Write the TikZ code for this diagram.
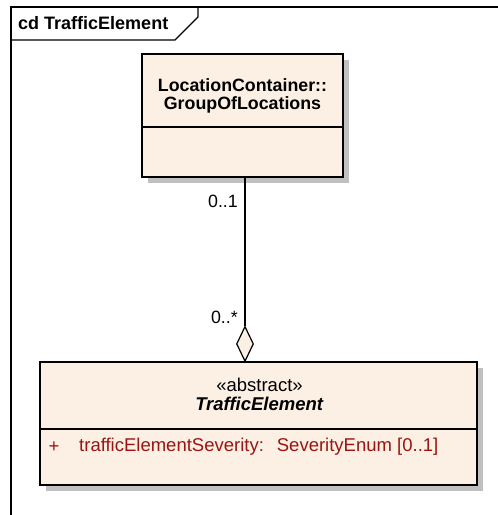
\documentclass[tikz,border=0pt]{standalone}
\usepackage{fontspec}
\setmainfont{Liberation Sans}
\usetikzlibrary{shapes.geometric}
\definecolor{classfill}{RGB}{251,240,227}
\definecolor{attrred}{RGB}{155,20,20}
\definecolor{shadowgray}{RGB}{192,192,192}
\tikzset{
	classbox/.style={draw, line width=1.5pt, fill=classfill, inner sep=0pt},
	umltext/.style={inner sep=0pt, font=\fontsize{18.5}{19}\selectfont},
	headtext/.style={inner sep=0pt, align=center, font=\fontsize{17.8}{18}\selectfont\bfseries},
	multlabel/.style={inner sep=0pt, anchor=east, font=\fontsize{17.8}{18}\selectfont}
}

\begin{document}
\begin{tikzpicture}[x=1pt, y=-1pt]
			%%%%% START %%%%%
			\useasboundingbox (0,0) rectangle (498,515);
			
			% frame and title tab
			\draw[line width=2pt] (11,515) -- (11,6.5) -- (498,6.5);
			\draw[line width=1.3pt] (11,40) -- (175,40) -- (198,17) -- (198,6.5);
			\node[headtext, anchor=west, font=\fontsize{18}{18}\selectfont\bfseries] (title) at (18,23.5) {cd TrafficElement};
			
			% shadows
			\fill[shadowgray] (148,60) rectangle (349,183);
			\fill[shadowgray] (46,368) rectangle (483,491);
			
			% GroupOfLocations
			\node[classbox, minimum width=201pt, minimum height=123pt] (group) at (242.5,115.5) {};
			\draw[line width=1.3pt] (group.west |- 0,127) -- (group.east |- 0,127);
			\node[headtext] (groupname) at (242.5,96) {LocationContainer::\\GroupOfLocations};
			
			% TrafficElement
			\node[classbox, minimum width=437pt, minimum height=123pt] (element) at (258.5,423.5) {};
			\draw[line width=1.3pt] (element.west |- 0,429) -- (element.east |- 0,429);
			\node[umltext, align=center] (elementname) at (259.5,394.5) {«abstract»\\\textbf{\textit{TrafficElement}}};
			\node[umltext, text=attrred] (plus) at (54,447) {+};
			\node[umltext, text=attrred, anchor=west] (severity) at (79,447) {trafficElementSeverity:\hspace{13pt}SeverityEnum [0..1]};
			
			% aggregation
			\node[diamond, draw, line width=1.2pt, fill=classfill, inner sep=0pt, minimum width=17pt, minimum height=35pt, anchor=south] (agg) at (245,362) {};
			\draw[line width=1.2pt] (agg.north |- group.south) -- (agg.north);
			\node[multlabel] (multgroup) at (238,201) {0..1};
			\node[multlabel] (multelement) at (238,317) {0..*};
			%%%%% END %%%%%
\end{tikzpicture}
\end{document}
